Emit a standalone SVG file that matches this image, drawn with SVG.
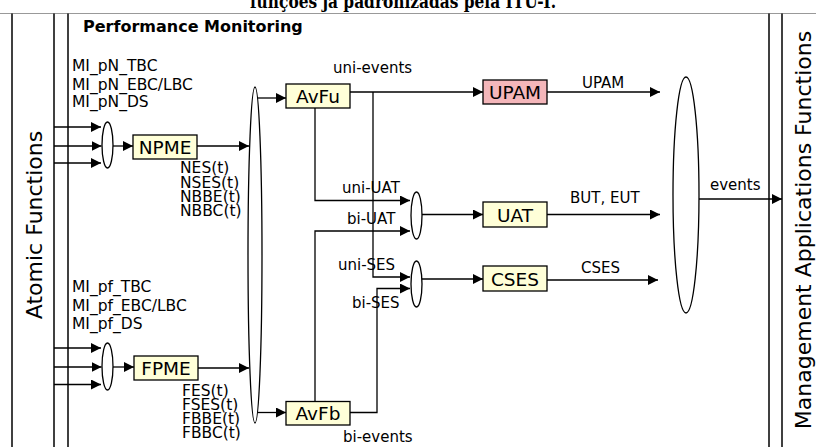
<svg xmlns="http://www.w3.org/2000/svg" width="816" height="447" viewBox="0 0 816 447">
<style>
text{font-family:"DejaVu Sans","Noto Sans",sans-serif;fill:#000}
.lbl{font-size:15px}
.mi{font-size:15.5px}
.box rect{stroke:#000;stroke-width:1.3}
.box text{font-size:18.5px;text-anchor:middle}
.y{fill:#ffffd8}
.p{fill:#f4b6ba}
.fr{stroke:#000;stroke-width:1.5;fill:none}
.c path,.c line{stroke:#000;stroke-width:1.3;fill:none}
.e{stroke:#000;stroke-width:1.3;fill:#fff}
</style>
<defs>
<marker id="a" viewBox="0 0 10 10" refX="10" refY="5" markerWidth="10" markerHeight="10" markerUnits="userSpaceOnUse" orient="auto">
<path d="M0,0 L10,5 L0,10 Z" fill="#000"/>
</marker>
</defs>
<rect width="816" height="447" fill="#fff"/>
<text x="403" y="8" text-anchor="middle" textLength="306" lengthAdjust="spacingAndGlyphs" style="font-family:'DejaVu Serif','Liberation Serif',serif;font-weight:bold;font-size:18px">funções já padronizadas pela ITU-T.</text>
<line x1="0" y1="13.5" x2="816" y2="13.5" stroke="#999" stroke-width="1.2"/>
<g id="frames">
<line class="fr" x1="12" y1="13.5" x2="12" y2="447"/>
<line class="fr" x1="54" y1="13.5" x2="54" y2="447"/>
<line class="fr" x1="68" y1="13.5" x2="68" y2="447"/>
<line class="fr" x1="769" y1="13.5" x2="769" y2="447"/>
<line class="fr" x1="782" y1="13.5" x2="782" y2="447"/>
</g>
<g id="atomic"><text transform="translate(41.5,225) rotate(-90)" text-anchor="middle" style="font-size:22px">Atomic Functions</text></g>
<g id="maf"><text transform="translate(811,230) rotate(-90)" text-anchor="middle" style="font-size:22px">Management Applications Functions</text></g>
<g id="pm"><text x="83" y="32" style="font-size:16px;font-weight:bold">Performance Monitoring</text></g>

<g id="connectors" class="c">
<line x1="54" y1="127" x2="101" y2="127" marker-end="url(#a)"/>
<line x1="54" y1="146" x2="101.5" y2="146" marker-end="url(#a)"/>
<line x1="54" y1="163" x2="101" y2="163" marker-end="url(#a)"/>
<line x1="113" y1="146" x2="133" y2="146" marker-end="url(#a)"/>
<line x1="197" y1="146" x2="249" y2="146" marker-end="url(#a)"/>
<line x1="54" y1="348" x2="101" y2="348" marker-end="url(#a)"/>
<line x1="54" y1="367" x2="101.5" y2="367" marker-end="url(#a)"/>
<line x1="54" y1="384.5" x2="101" y2="384.5" marker-end="url(#a)"/>
<line x1="113" y1="367" x2="134" y2="367" marker-end="url(#a)"/>
<line x1="198" y1="368" x2="249" y2="368" marker-end="url(#a)"/>
<line x1="258" y1="98" x2="286" y2="98" marker-end="url(#a)"/>
<line x1="258" y1="412.5" x2="286" y2="412.5" marker-end="url(#a)"/>
<line x1="350" y1="92" x2="483" y2="92" marker-end="url(#a)"/>
<path d="M373,92 V277 H410" marker-end="url(#a)"/>
<path d="M315,108 V200.5 H410" marker-end="url(#a)"/>
<path d="M315,401.5 V231 H410" marker-end="url(#a)"/>
<path d="M350,412.5 H377 V288.5 H410" marker-end="url(#a)"/>
<line x1="422" y1="214.5" x2="483" y2="214.5" marker-end="url(#a)"/>
<line x1="422" y1="279" x2="483" y2="279" marker-end="url(#a)"/>
<line x1="547" y1="92" x2="660" y2="92" marker-end="url(#a)"/>
<line x1="547" y1="214.5" x2="660" y2="214.5" marker-end="url(#a)"/>
<line x1="547" y1="280" x2="658" y2="280" marker-end="url(#a)"/>
<line x1="699" y1="199" x2="782" y2="199" marker-end="url(#a)"/>
</g>

<g id="mux-n"><ellipse class="e" cx="107.5" cy="145" rx="5.5" ry="23"/></g>
<g id="mux-f"><ellipse class="e" cx="107.5" cy="366.5" rx="5.5" ry="23.5"/></g>
<g id="mux-big"><ellipse class="e" cx="255" cy="255" rx="7" ry="168" style="fill:none"/></g>
<g id="mux-uat"><ellipse class="e" cx="416.5" cy="215.5" rx="5.5" ry="23.5"/></g>
<g id="mux-ses"><ellipse class="e" cx="416.5" cy="284" rx="5.5" ry="23"/></g>
<g id="mux-out"><ellipse class="e" cx="686" cy="195" rx="13" ry="118"/></g>

<g id="npme" class="box"><rect class="y" x="133" y="135" width="64" height="24"/><text x="165" y="154">NPME</text></g>
<g id="fpme" class="box"><rect class="y" x="134" y="356" width="64" height="24"/><text x="166" y="375">FPME</text></g>
<g id="avfu" class="box"><rect class="y" x="286" y="84" width="64" height="24"/><text x="318" y="103">AvFu</text></g>
<g id="avfb" class="box"><rect class="y" x="286" y="401.5" width="64" height="23.5"/><text x="318" y="420">AvFb</text></g>
<g id="upam" class="box"><rect class="p" x="483" y="80" width="64" height="24"/><text x="515" y="99">UPAM</text></g>
<g id="uat" class="box"><rect class="y" x="483" y="202" width="64" height="25"/><text x="515" y="221.5">UAT</text></g>
<g id="cses" class="box"><rect class="y" x="483" y="266" width="64" height="25"/><text x="515" y="285.5">CSES</text></g>

<g id="labels">
<text class="mi" x="72" y="71">MI_pN_TBC</text>
<text class="mi" x="72" y="89.5">MI_pN_EBC/LBC</text>
<text class="mi" x="72" y="107">MI_pN_DS</text>
<text class="mi" x="72" y="292">MI_pf_TBC</text>
<text class="mi" x="72" y="311">MI_pf_EBC/LBC</text>
<text class="mi" x="72" y="329">MI_pf_DS</text>
<text class="mi" x="180" y="173">NES(t)</text>
<text class="mi" x="180" y="188">NSES(t)</text>
<text class="mi" x="180" y="202">NBBE(t)</text>
<text class="mi" x="180" y="216">NBBC(t)</text>
<text class="mi" x="182" y="396">FES(t)</text>
<text class="mi" x="182" y="409.5">FSES(t)</text>
<text class="mi" x="182" y="424">FBBE(t)</text>
<text class="mi" x="182" y="438">FBBC(t)</text>
<text class="lbl" x="333" y="73">uni-events</text>
<text class="lbl" x="343" y="442">bi-events</text>
<text class="lbl" x="342" y="193">uni-UAT</text>
<text class="lbl" x="347" y="224">bi-UAT</text>
<text class="lbl" x="338" y="270">uni-SES</text>
<text class="lbl" x="352" y="307.5">bi-SES</text>
<text class="lbl" x="582" y="88">UPAM</text>
<text class="lbl" x="570" y="203">BUT, EUT</text>
<text class="lbl" x="581" y="273">CSES</text>
<text class="lbl" x="710" y="190">events</text>
</g>
</svg>
